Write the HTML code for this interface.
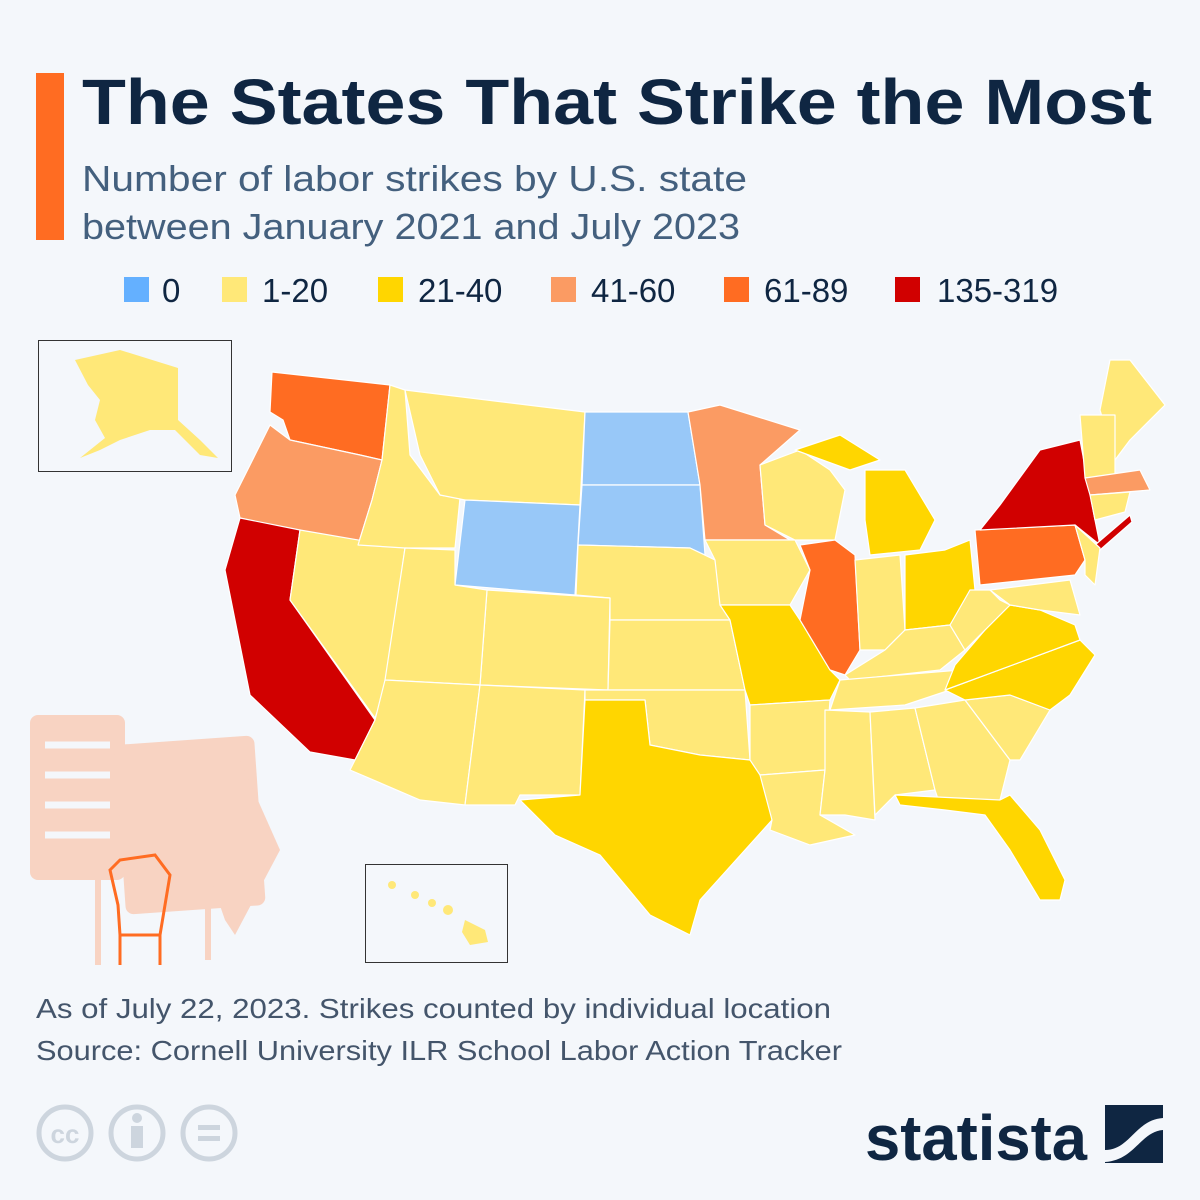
<!DOCTYPE html>
<html><head><meta charset="utf-8"><style>
html,body{margin:0;padding:0;background:#f4f7fb}
svg{display:block}
text{font-family:"Liberation Sans",sans-serif}
</style></head><body>
<svg width="1200" height="1200" viewBox="0 0 1200 1200" xmlns="http://www.w3.org/2000/svg">
<rect width="1200" height="1200" fill="#f4f7fb"/>
<rect x="36" y="73" width="28" height="167" fill="#ff6c22"/>
<text x="82" y="124" font-size="64" font-weight="bold" fill="#0f2642" textLength="1070" lengthAdjust="spacingAndGlyphs">The States That Strike the Most</text>
<text x="82" y="191" font-size="36" fill="#44607e" textLength="665" lengthAdjust="spacingAndGlyphs">Number of labor strikes by U.S. state</text>
<text x="82" y="239" font-size="36" fill="#44607e" textLength="658" lengthAdjust="spacingAndGlyphs">between January 2021 and July 2023</text>
<g font-size="33" fill="#0f2642">
<rect x="124" y="277" width="25" height="25" fill="#64b0ff"/><text x="162" y="302">0</text>
<rect x="222" y="277" width="25" height="25" fill="#ffe878"/><text x="262" y="302">1-20</text>
<rect x="378" y="277" width="25" height="25" fill="#ffd600"/><text x="418" y="302">21-40</text>
<rect x="551" y="277" width="25" height="25" fill="#fb9b63"/><text x="591" y="302">41-60</text>
<rect x="724" y="277" width="25" height="25" fill="#ff6c22"/><text x="764" y="302">61-89</text>
<rect x="895" y="277" width="25" height="25" fill="#d10000"/><text x="937" y="302">135-319</text>
</g>
<!-- insets -->
<rect x="38.5" y="340.5" width="193" height="131" fill="none" stroke="#333" stroke-width="1"/>
<polygon points="75,360 120,350 178,368 178,420 200,440 218,458 200,455 175,430 150,430 120,440 100,450 80,458 105,438 95,420 100,400 88,385" fill="#ffe878"/>
<rect x="365.5" y="864.5" width="142" height="98" fill="none" stroke="#333" stroke-width="1"/>
<g fill="#ffe878"><circle cx="392" cy="885" r="4"/><circle cx="415" cy="895" r="4"/><circle cx="432" cy="903" r="4"/><circle cx="448" cy="910" r="5"/><polygon points="465,920 485,930 488,942 470,945 462,932"/></g>
<!-- map -->
<g stroke="#fff" stroke-width="1.2" stroke-linejoin="round">
<polygon fill="#ff6c22" points="272,372 390,385 382,460 360,455 290,440 283,420 270,412"/>
<polygon fill="#fb9b63" points="270,425 290,440 360,455 382,460 372,500 358,545 240,518 235,495 255,455"/>
<polygon fill="#d10000" points="240,518 300,530 290,600 375,720 355,760 310,752 250,695 225,570"/>
<polygon fill="#ffe878" points="300,530 405,548 385,690 375,718 290,600"/>
<polygon fill="#ffe878" points="390,385 405,390 410,455 440,495 460,498 455,548 405,548 358,545 372,500 382,460"/>
<polygon fill="#ffe878" points="405,390 585,412 580,505 465,500 440,495 420,455"/>
<polygon fill="#98c8f8" points="465,500 580,505 575,595 455,585"/>
<polygon fill="#98c8f8" points="585,412 688,412 700,485 582,485"/>
<polygon fill="#98c8f8" points="582,485 700,485 705,555 690,548 578,545"/>
<polygon fill="#ffe878" points="578,545 690,548 715,560 730,620 610,620 610,598 576,595"/>
<polygon fill="#ffe878" points="487,590 610,598 608,690 480,685"/>
<polygon fill="#ffe878" points="405,548 455,550 455,585 487,590 480,685 385,680"/>
<polygon fill="#ffe878" points="385,680 480,685 465,805 420,800 350,770 375,720"/>
<polygon fill="#ffe878" points="480,685 585,690 580,795 520,795 515,805 465,805"/>
<polygon fill="#ffe878" points="610,620 730,620 745,690 608,690"/>
<polygon fill="#ffe878" points="585,690 745,690 750,760 700,755 650,745 645,700 585,700"/>
<polygon fill="#ffd600" points="585,700 645,700 650,745 700,755 750,760 765,770 772,820 700,900 690,935 650,915 600,855 555,835 520,800 580,795"/>
<polygon fill="#fb9b63" points="688,412 720,405 800,430 760,465 765,525 790,540 705,540 700,485"/>
<polygon fill="#ffe878" points="705,540 795,540 810,570 790,605 720,605 715,560"/>
<polygon fill="#ffd600" points="720,605 790,605 800,620 830,670 840,680 830,700 750,705 745,690 730,620"/>
<polygon fill="#ffe878" points="750,705 830,700 825,770 760,775 750,760"/>
<polygon fill="#ffe878" points="760,775 825,770 820,815 855,835 810,845 770,830 772,820"/>
<polygon fill="#ffe878" points="760,465 800,450 830,470 845,490 835,540 795,540 765,525"/>
<polygon fill="#ff6c22" points="800,545 835,540 855,555 860,650 845,675 830,670 800,620 810,570"/>
<polygon fill="#ffe878" points="855,560 900,555 905,630 885,650 860,650"/>
<polygon fill="#ffd600" points="865,470 905,470 935,520 920,550 870,555 865,520"/>
<polygon fill="#ffd600" points="795,450 840,435 880,460 850,470"/>
<polygon fill="#ffd600" points="905,555 945,550 970,540 975,590 950,625 905,630"/>
<polygon fill="#ffe878" points="845,675 885,650 905,630 950,625 965,650 940,670 850,680"/>
<polygon fill="#ffe878" points="840,680 960,670 950,690 905,705 830,710"/>
<polygon fill="#ffe878" points="825,710 870,712 875,820 845,815 820,815 825,770"/>
<polygon fill="#ffe878" points="870,712 915,708 935,790 895,795 875,815"/>
<polygon fill="#ffe878" points="915,708 965,700 1010,760 1000,800 940,805 935,790"/>
<polygon fill="#ffd600" points="895,795 1000,800 1010,795 1040,830 1065,880 1060,900 1040,900 1010,850 985,815 945,810 900,805"/>
<polygon fill="#ffe878" points="965,700 1010,695 1050,710 1020,760 1010,760"/>
<polygon fill="#ffd600" points="945,690 1080,640 1095,655 1070,695 1050,710 1010,695 965,700"/>
<polygon fill="#ffd600" points="955,665 985,630 1010,605 1040,610 1075,625 1080,640 945,690"/>
<polygon fill="#ffe878" points="950,625 970,590 990,590 1000,600 1010,605 985,630 965,650"/>
<polygon fill="#ff6c22" points="975,530 1075,525 1085,560 1075,575 980,585"/>
<polygon fill="#d10000" points="980,530 1000,505 1040,450 1080,440 1095,520 1100,545 1075,525"/>
<polygon fill="#d10000" points="1095,545 1130,515 1132,522 1100,550"/>
<polygon fill="#ffe878" points="1075,525 1100,548 1095,585 1085,575 1085,560"/>
<polygon fill="#ffe878" points="990,590 1070,580 1080,615 1040,610 1010,605"/>
<polygon fill="#ffe878" points="1100,410 1110,360 1130,360 1165,405 1130,440 1115,460"/>
<polygon fill="#ffe878" points="1080,415 1115,415 1115,475 1085,478"/>
<polygon fill="#fb9b63" points="1085,478 1140,470 1150,490 1090,495"/>
<polygon fill="#ffe878" points="1090,495 1130,492 1125,512 1095,520"/>
</g>
<!-- illustration -->
<g fill="#f8d3c2">
<rect x="30" y="715" width="95" height="165" rx="8"/>
<rect x="120" y="740" width="140" height="170" rx="8" transform="rotate(-4 190 825)"/>
<rect x="95" y="880" width="6" height="85"/><rect x="205" y="900" width="6" height="60"/>
<polygon points="180,790 240,760 280,850 235,935 225,920"/>
</g>
<g fill="none" stroke="#f4f7fb" stroke-width="7"><line x1="45" y1="745" x2="110" y2="745"/><line x1="45" y1="775" x2="110" y2="775"/><line x1="45" y1="805" x2="110" y2="805"/><line x1="45" y1="835" x2="110" y2="835"/></g>
<g fill="none" stroke="#ff6c22" stroke-width="3"><path d="M110,870 L120,860 L155,855 L170,875 L165,905 L160,935 L120,935 L118,905 Z"/><line x1="120" y1="935" x2="120" y2="965"/><line x1="160" y1="935" x2="160" y2="965"/></g>
<!-- footer -->
<text x="36" y="1018" font-size="28" fill="#44556b" textLength="795" lengthAdjust="spacingAndGlyphs">As of  July 22, 2023. Strikes counted by individual location</text>
<text x="36" y="1060" font-size="28" fill="#44556b" textLength="806" lengthAdjust="spacingAndGlyphs">Source: Cornell University ILR School Labor Action Tracker</text>
<g fill="none" stroke="#cdd5de" stroke-width="5">
<circle cx="65" cy="1133" r="26"/><circle cx="137" cy="1133" r="26"/><circle cx="209" cy="1133" r="26"/></g>
<text x="65" y="1143" font-size="26" font-weight="bold" fill="#cdd5de" text-anchor="middle">cc</text>
<circle cx="137" cy="1118" r="5" fill="#cdd5de"/><rect x="131" y="1126" width="12" height="22" fill="#cdd5de"/>
<rect x="198" y="1125" width="22" height="5" fill="#cdd5de"/><rect x="198" y="1136" width="22" height="5" fill="#cdd5de"/>
<text x="865" y="1160" font-size="64" font-weight="bold" fill="#0f2642" textLength="222" lengthAdjust="spacingAndGlyphs">statista</text>
<rect x="1105" y="1105" width="58" height="58" fill="#0f2642"/>
<path d="M1105,1150 C1130,1150 1135,1120 1163,1118 L1163,1130 C1140,1132 1135,1160 1105,1162 Z" fill="#f4f7fb"/>
</svg>
</body></html>
